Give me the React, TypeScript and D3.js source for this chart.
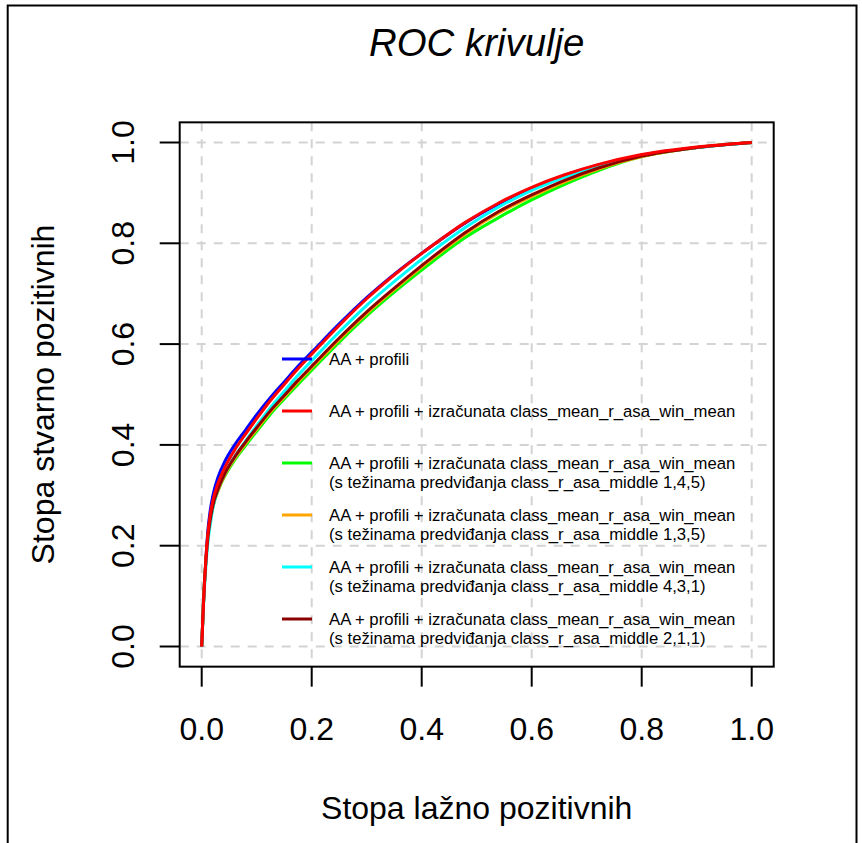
import React, { useEffect, useRef } from "react";
import * as d3 from "d3";

const fpr = [0, 0.003, 0.005, 0.008, 0.011, 0.015, 0.02, 0.03, 0.042, 0.06, 0.08, 0.1, 0.125, 0.15, 0.175, 0.2, 0.25, 0.3, 0.36, 0.42, 0.48, 0.54, 0.6, 0.66, 0.72, 0.8, 0.9, 1];

const tprBlue = [0, 0.08, 0.125, 0.18, 0.227, 0.266, 0.298, 0.337, 0.367, 0.4, 0.43, 0.46, 0.494, 0.525, 0.556, 0.584, 0.64, 0.692, 0.747, 0.796, 0.841, 0.878, 0.909, 0.935, 0.955, 0.975, 0.99, 1];
const tprRed = [0, 0.08, 0.125, 0.18, 0.222, 0.258, 0.288, 0.325, 0.355, 0.39, 0.422, 0.452, 0.488, 0.52, 0.551, 0.58, 0.637, 0.69, 0.746, 0.796, 0.842, 0.88, 0.911, 0.936, 0.956, 0.976, 0.991, 1];
const tprGreen = [0, 0.08, 0.125, 0.175, 0.212, 0.246, 0.275, 0.31, 0.338, 0.37, 0.399, 0.427, 0.461, 0.491, 0.52, 0.548, 0.604, 0.656, 0.712, 0.764, 0.812, 0.851, 0.886, 0.917, 0.944, 0.972, 0.99, 1];
const tprOrange = [0, 0.08, 0.125, 0.175, 0.212, 0.246, 0.276, 0.31, 0.34, 0.373, 0.403, 0.431, 0.465, 0.495, 0.525, 0.553, 0.609, 0.661, 0.717, 0.77, 0.819, 0.86, 0.893, 0.922, 0.947, 0.972, 0.99, 1];
const tprCyan = [0, 0.075, 0.115, 0.165, 0.204, 0.238, 0.273, 0.313, 0.343, 0.377, 0.408, 0.438, 0.474, 0.506, 0.538, 0.567, 0.624, 0.677, 0.733, 0.785, 0.832, 0.872, 0.905, 0.931, 0.952, 0.974, 0.99, 1];
const tprDarkred = [0, 0.08, 0.125, 0.175, 0.214, 0.248, 0.278, 0.313, 0.343, 0.376, 0.406, 0.434, 0.468, 0.498, 0.528, 0.556, 0.612, 0.664, 0.72, 0.773, 0.822, 0.863, 0.896, 0.925, 0.949, 0.973, 0.99, 1];

const seriesNames = [
  ["AA + profili"],
  ["AA + profili + izračunata class_mean_r_asa_win_mean"],
  ["AA + profili + izračunata class_mean_r_asa_win_mean", "(s težinama predviđanja class_r_asa_middle 1,4,5)"],
  ["AA + profili + izračunata class_mean_r_asa_win_mean", "(s težinama predviđanja class_r_asa_middle 1,3,5)"],
  ["AA + profili + izračunata class_mean_r_asa_win_mean", "(s težinama predviđanja class_r_asa_middle 4,3,1)"],
  ["AA + profili + izračunata class_mean_r_asa_win_mean", "(s težinama predviđanja class_r_asa_middle 2,1,1)"],
];
const seriesColors = ["#0000ff", "#ff0000", "#00ff00", "#ffa500", "#00ffff", "#8b0000"];
const seriesTpr = [tprBlue, tprRed, tprGreen, tprOrange, tprCyan, tprDarkred];
const drawOrder = [0, 2, 3, 4, 5, 1];

const ticks = [0, 0.2, 0.4, 0.6, 0.8, 1.0];
const tickLabels = ["0.0", "0.2", "0.4", "0.6", "0.8", "1.0"];

const title = "ROC krivulje";
const xTitle = "Stopa lažno pozitivnih";
const yTitle = "Stopa stvarno pozitivnih";

const W = 862;
const H = 843;
const FONT = "'Liberation Sans', Arial, Helvetica, sans-serif";

export default function App() {
  const ref = useRef<SVGSVGElement>(null);

  useEffect(() => {
    const svg = d3.select(ref.current);
    svg.selectAll("*").remove();

    const x = d3.scaleLinear().domain([0, 1]).range([201.7, 751.7]);
    const y = d3.scaleLinear().domain([0, 1]).range([646.5, 142.5]);
    const [x0, x1] = [x(-0.04), x(1.04)];
    const [y0, y1] = [y(-0.04), y(1.04)];

    svg.append("rect").attr("width", W).attr("height", H).attr("fill", "#fff");

    // outer frame
    svg.append("path")
      .attr("d", `M7.7,${H} V5.5 H856.5 V${H}`)
      .attr("fill", "none").attr("stroke", "#000").attr("stroke-width", 2);

    // grid
    const grid = svg.append("g").attr("stroke", "#d3d3d3").attr("stroke-width", 2)
      .attr("stroke-dasharray", "9,8");
    ticks.forEach((t) => {
      grid.append("line").attr("x1", x(t)).attr("x2", x(t)).attr("y1", y1).attr("y2", y0);
      grid.append("line").attr("y1", y(t)).attr("y2", y(t)).attr("x1", x0).attr("x2", x1);
    });

    // curves
    const line = d3.line<[number, number]>()
      .x((d) => x(d[0]))
      .y((d) => y(d[1]))
      .curve(d3.curveMonotoneX);
    drawOrder.forEach((i) => {
      const pts = fpr.map((f, k) => [f, seriesTpr[i][k]] as [number, number]);
      svg.append("path").attr("d", line(pts) as string)
        .attr("fill", "none").attr("stroke", seriesColors[i])
        .attr("stroke-width", 3).attr("stroke-linejoin", "round");
    });

    // box
    svg.append("rect").attr("x", x0).attr("y", y1).attr("width", x1 - x0).attr("height", y0 - y1)
      .attr("fill", "none").attr("stroke", "#000").attr("stroke-width", 2);

    // x axis
    const gx = svg.append("g");
    ticks.forEach((t, i) => {
      gx.append("line").attr("x1", x(t)).attr("x2", x(t)).attr("y1", y0).attr("y2", y0 + 20)
        .attr("stroke", "#000").attr("stroke-width", 2);
      gx.append("text").attr("x", x(t)).attr("y", y0 + 73).attr("text-anchor", "middle")
        .attr("font-family", FONT).attr("font-size", 32).text(tickLabels[i]);
    });
    // y axis
    const gy = svg.append("g");
    ticks.forEach((t, i) => {
      gy.append("line").attr("y1", y(t)).attr("y2", y(t)).attr("x1", x0).attr("x2", x0 - 20)
        .attr("stroke", "#000").attr("stroke-width", 2);
      gy.append("text").attr("transform", `translate(${x0 - 46},${y(t)}) rotate(-90)`)
        .attr("text-anchor", "middle")
        .attr("font-family", FONT).attr("font-size", 32).text(tickLabels[i]);
    });

    // titles
    svg.append("text").attr("x", (x0 + x1) / 2).attr("y", 56).attr("text-anchor", "middle")
      .attr("font-family", FONT).attr("font-size", 38.4).attr("font-style", "italic").text(title);
    svg.append("text").attr("x", (x0 + x1) / 2).attr("y", 819).attr("text-anchor", "middle")
      .attr("font-family", FONT).attr("font-size", 32).text(xTitle);
    svg.append("text").attr("transform", `translate(54,${(y0 + y1) / 2}) rotate(-90)`)
      .attr("text-anchor", "middle")
      .attr("font-family", FONT).attr("font-size", 32).text(yTitle);

    // legend
    const lg = svg.append("g");
    seriesNames.forEach((lines, i) => {
      const ly = 359 + i * 52;
      lg.append("line").attr("x1", 282).attr("x2", 312).attr("y1", ly).attr("y2", ly)
        .attr("stroke", seriesColors[i]).attr("stroke-width", 3);
      lines.forEach((s, j) => {
        lg.append("text").attr("x", 329).attr("y", ly + j * 19.5).attr("dy", "0.35em")
          .attr("font-family", FONT).attr("font-size", 16.7).text(s);
      });
    });
  }, []);

  return (
    <svg ref={ref} width={W} height={H} style={{ position: "absolute", left: 0, top: 0 }} />
  );
}
